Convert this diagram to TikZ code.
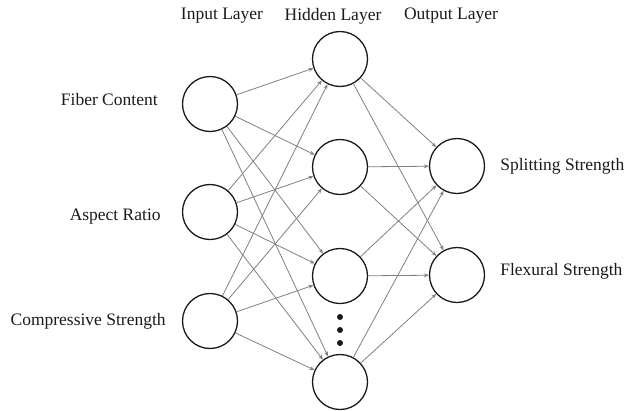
\documentclass[tikz,border=0pt]{standalone}
\usepackage{fontspec}
\setmainfont{Liberation Serif}
\usetikzlibrary{arrows.meta, positioning}
\definecolor{ink}{HTML}{1A1A1A}
\definecolor{wire}{HTML}{808080}
\tikzset{el/.style={line cap=round, line join=round}}

\begin{document}
\begin{tikzpicture}[el, x=1pt, y=-1pt,
     unit/.style={circle, draw=ink, line width=1.3pt, minimum size=55pt,
        inner sep=0pt, fill=white},
     lbl/.style={font=\fontsize{17.5}{20}\selectfont, ink, inner sep=0pt},
     ar/.style={-{Stealth[length=5pt, width=4pt]}, wire, line width=0.8pt}]
     \useasboundingbox (0,0) rectangle (631,410);
     % layers
     \node[unit] (in1) at (210,104) {};
     \node[unit] (in2) at (210,212) {};
     \node[unit] (in3) at (210,321) {};
     \node[unit] (hid1) at (340,59) {};
     \node[unit] (hid2) at (340,167) {};
     \node[unit] (hid3) at (340,276) {};
     \node[unit] (hid4) at (340,382) {};
     \node[unit] (out1) at (457,166) {};
     \node[unit] (out2) at (457,275) {};
     % connections
     \foreach \i in {1,2,3}
       \foreach \h in {1,2,3,4}
         \draw[ar] (in\i)--(hid\h);
     \foreach \h in {1,2,3,4}
       \foreach \o in {1,2}
         \draw[ar] (hid\h)--(out\o);
     % dots
     \foreach \y in {317,330,343}
       \fill[ink] (340,\y) circle (3pt);
     % labels
     \node[lbl] (tin) at (222,16) {Input Layer};
     \node[lbl] (thid) at (333,16) {Hidden Layer};
     \node[lbl] (tout) at (451,16) {Output Layer};
     \node[lbl, left=24pt of in1, yshift=4pt] {Fiber Content};
     \node[lbl, left=21pt of in2, yshift=-5pt] {Aspect Ratio};
     \node[lbl, left=16pt of in3] {Compressive Strength};
     \node[lbl, right=15pt of out1] {Splitting Strength};
     \node[lbl, right=15pt of out2, yshift=4pt] {Flexural Strength};
  \end{tikzpicture}
\end{document}
